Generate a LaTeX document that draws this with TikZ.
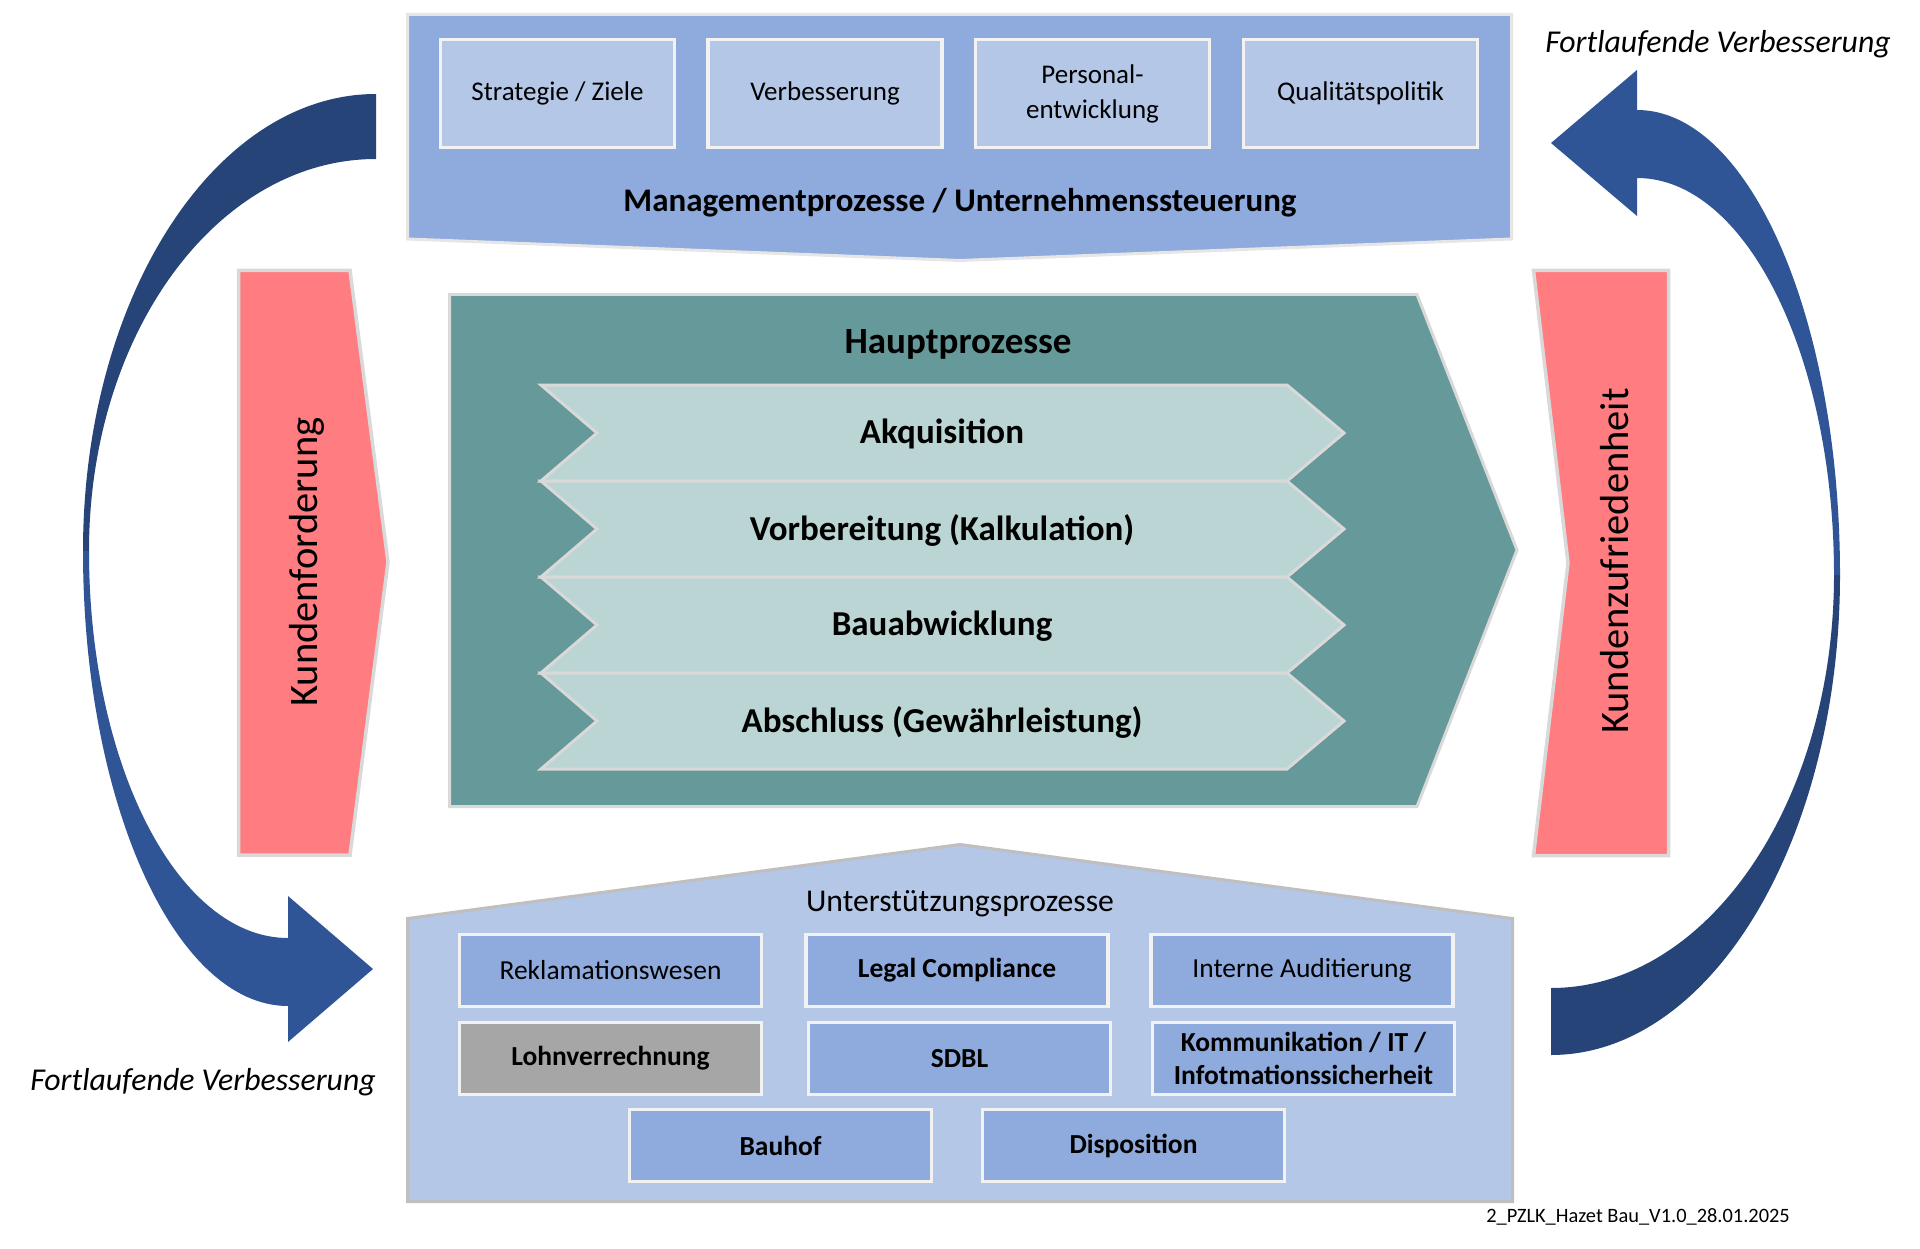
\documentclass[tikz,border=0pt]{standalone}
\usepackage{fontspec}
\setmainfont{Carlito}
\definecolor{mgmt}{HTML}{8FAADC}
\definecolor{lightbl}{HTML}{B4C7E7}
\definecolor{hpteal}{HTML}{669999}
\definecolor{chev}{HTML}{BAD5D4}
\definecolor{kred}{HTML}{FF7C80}
\definecolor{navy}{HTML}{264478}
\definecolor{midblue}{HTML}{2F5597}
\definecolor{lohn}{HTML}{A6A6A6}
\definecolor{edgeA}{HTML}{E6E6E6}
\definecolor{edgeB}{HTML}{D9D9D9}
\definecolor{edgeC}{HTML}{BFBFBF}
\definecolor{whiteedge}{HTML}{F2F2F2}
\begin{document}
\begin{tikzpicture}[x=1pt,y=-1pt,
  topbox/.style={draw=whiteedge, line width=3.5pt, fill=lightbl, minimum width=234pt, minimum height=108pt, inner sep=0pt, align=center, font=\fontsize{27}{35}\selectfont},
  supbox/.style={draw=whiteedge, line width=3.5pt, fill=mgmt, minimum width=302pt, minimum height=72pt, inner sep=0pt, align=center, font=\fontsize{27.5}{33}\selectfont},
  supbold/.style={supbox, font=\fontsize{27.5}{33}\selectfont\bfseries},
  chevron/.style={draw=edgeB, line width=3pt, fill=chev, line join=miter},
  chevtext/.style={font=\fontsize{35}{40}\selectfont\bfseries, inner sep=0pt},
  bigshape/.style={line width=3pt, line join=miter},
  loopnote/.style={font=\fontsize{31.8}{36}\selectfont\itshape, inner sep=0pt},
  sidetext/.style={rotate=90, font=\fontsize{40.5}{45}\selectfont, inner sep=0pt}
]
\useasboundingbox (0,0) rectangle (1920,1249);
\fill[white] (0,0) rectangle (1920,1249);

% ---------- curved arrows ----------
\fill[navy] (376,94) .. controls (214,94) and (83,299) .. (83,551) -- (89,551) .. controls (89,334) and (217,159) .. (376,159) -- cycle;
\fill[midblue] (83,551) .. controls (83,802) and (175,1006) .. (288,1006) -- (288,1042) -- (373,969) -- (288,896) -- (288,938) .. controls (178,938) and (89,765) .. (89,551) -- cycle;

\fill[navy] (1551,1055) .. controls (1711,1055) and (1840,840) .. (1840,575) -- (1834,575) .. controls (1834,803) and (1707,988) .. (1551,988) -- cycle;
\fill[midblue] (1840,575) .. controls (1840,318) and (1749,110) .. (1637,110) -- (1637,70) -- (1551,143) -- (1637,216) -- (1637,178) .. controls (1746,178) and (1834,356) .. (1834,575) -- cycle;

\node[loopnote] (fvr) at (1718,44) {Fortlaufende Verbesserung};
\node[loopnote] (fvl) at (203,1082) {Fortlaufende Verbesserung};

% ---------- management ----------
\draw[bigshape, draw=edgeA, fill=mgmt] (407.5,14.5) -- (1511.5,14.5) -- (1511.5,239) -- (960,260.5) -- (407.5,239) -- cycle;
\node[topbox] (strat) at (557.5,93.5) {Strategie / Ziele};
\node[topbox] (verb) at (825,93.5) {Verbesserung};
\node[topbox] (pers) at (1092.5,93.5) {Personal-\\entwicklung};
\node[topbox] (qual) at (1360.5,93.5) {Qualitätspolitik};
\node[font=\fontsize{33}{38}\selectfont\bfseries] (mtitle) at (960,203) {Managementprozesse / Unternehmenssteuerung};

% ---------- side shapes ----------
\draw[bigshape, draw=edgeB, fill=kred, line width=3.5pt] (238.5,270.5) -- (350,270.5) -- (388,562) -- (350,855) -- (238.5,855) -- cycle;
\node[sidetext] (kford) at (307,562) {Kundenforderung};
\draw[bigshape, draw=edgeB, fill=kred, line width=3.5pt] (1533.5,270.5) -- (1668.5,270.5) -- (1668.5,855.5) -- (1533.5,855.5) -- (1568,563) -- cycle;
\node[sidetext] (kzuf) at (1615,561) {Kundenzufriedenheit};

% ---------- main processes ----------
\draw[bigshape, draw=edgeB, fill=hpteal] (449.5,294.5) -- (1417,294.5) -- (1517,550) -- (1417,806.5) -- (449.5,806.5) -- cycle;
\node[font=\fontsize{37}{42}\selectfont\bfseries] (haupt) at (958,344) {Hauptprozesse};

\foreach \ya/\yb/\nm/\txt in {385/481/akq/Akquisition, 481/577/vorb/Vorbereitung (Kalkulation), 577/673/bau/Bauabwicklung, 673/769/absc/Abschluss (Gewährleistung)}{
  \draw[chevron] (541,\ya) -- (1287,\ya) -- (1344,{(\ya+\yb)/2}) -- (1287,\yb) -- (541,\yb) -- (597,{(\ya+\yb)/2}) -- cycle;
  \node[chevtext] (\nm) at (942,{(\ya+\yb)/2+1}) {\txt};
}

% ---------- support processes ----------
\draw[bigshape, draw=edgeC, fill=lightbl] (407.5,918.5) -- (960,844.5) -- (1512.5,918.5) -- (1512.5,1201.5) -- (407.5,1201.5) -- cycle;
\node[font=\fontsize{31.7}{36}\selectfont] (utitle) at (960,904) {Unterstützungsprozesse};
\node[supbox] (rekl) at (610.5,970.5) {Reklamationswesen};
\node[supbold] (legal) at (957,970.5) {Legal Compliance};
\node[supbox] (audit) at (1302,970.5) {Interne Auditierung};
\node[supbold, fill=lohn] (lohnv) at (610.5,1058.5) {Lohnverrechnung};
\node[supbold] (sdbl) at (959.5,1058.5) {SDBL};
\node[supbold] (komm) at (1303.5,1058.5) {Kommunikation / IT /\\Infotmationssicherheit};
\node[supbold] (bauhof) at (780.5,1145.5) {Bauhof};
\node[supbold] (dispo) at (1133.5,1145.5) {Disposition};

\node[font=\fontsize{20.4}{24}\selectfont, inner sep=0pt] (foot) at (1638,1217) {2\_PZLK\_Hazet Bau\_V1.0\_28.01.2025};
\end{tikzpicture}
\end{document}
